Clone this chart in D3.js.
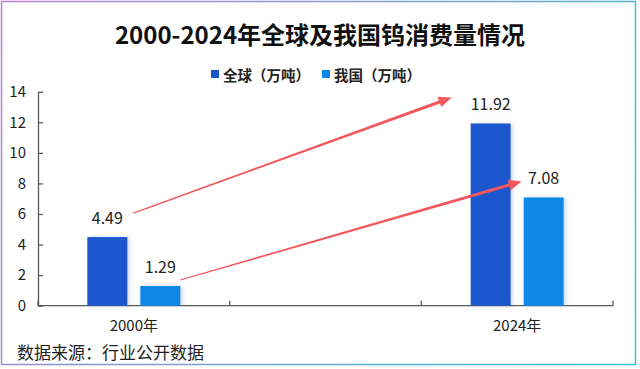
<!DOCTYPE html>
<html><head><meta charset="utf-8">
<script src="https://cdn.jsdelivr.net/npm/d3@7"></script>
<style>body{margin:0;background:#fff}svg{display:block}</style>
</head><body>
<script>
const categories = ["2000年", "", "2024年"];
const seriesNames = ["全球（万吨）", "我国（万吨）"];
const globalValues = [4.49, null, 11.92];
const chinaValues = [1.29, null, 7.08];
const yTicks = [0, 2, 4, 6, 8, 10, 12, 14];
const colors = ["#1E56CF", "#1188E8"];
const titleText = "2000-2024年全球及我国钨消费量情况";
const sourceText = "数据来源：行业公开数据";

const W = 640, H = 369;
const font = "'Noto Sans CJK SC','Noto Sans',sans-serif";
const svg = d3.select("body").append("svg").attr("width", W).attr("height", H);
const defs = svg.append("defs");
const grad = defs.append("linearGradient").attr("id","bd").attr("gradientUnits","userSpaceOnUse")
  .attr("x1",0).attr("y1",0).attr("x2",640).attr("y2",369);
grad.append("stop").attr("offset","0%").attr("stop-color","#B97BDB");
grad.append("stop").attr("offset","100%").attr("stop-color","#35C3D0");
const sh = defs.append("filter").attr("id","sh").attr("x","-20%").attr("y","-20%").attr("width","160%").attr("height","140%");
sh.append("feDropShadow").attr("dx",2).attr("dy",0).attr("stdDeviation",2).attr("flood-color","#6080c0").attr("flood-opacity",0.3);

svg.append("rect").attr("x",1.5).attr("y",1.5).attr("width",634).attr("height",363)
  .attr("fill","#fff").attr("stroke","url(#bd)").attr("stroke-width",1.5);

svg.append("text").attr("x",320).attr("y",33).attr("text-anchor","middle").attr("dominant-baseline","central")
  .attr("font-family",font).attr("font-size",24).attr("font-weight","bold").attr("fill","#111").text(titleText);

// legend
const legX = [211, 322];
seriesNames.forEach((n,i)=>{
  svg.append("rect").attr("x",legX[i]).attr("y",70).attr("width",8).attr("height",8).attr("fill",colors[i]);
  svg.append("text").attr("x",legX[i]+12).attr("y",74).attr("dominant-baseline","central")
    .attr("font-family",font).attr("font-size",14.5).attr("font-weight","bold").attr("fill","#222").text(n);
});

const x = d3.scaleBand().domain(categories).range([38, 613]).padding(0);
const y = d3.scaleLinear().domain([0, 14]).range([305.7, 91.7]);
const x1 = d3.scaleBand().domain([0,1]).range([0, 93]).paddingInner(13/53).paddingOuter(0);
const groupOff = (x.bandwidth() - 93) / 2;

// y axis
const yAxis = svg.append("g").attr("transform","translate(38,0)")
  .call(d3.axisLeft(y).tickValues(yTicks).tickSizeInner(-5).tickSizeOuter(0).tickPadding(12));
yAxis.select(".domain").attr("stroke","#595959").attr("stroke-width",1.3);
yAxis.selectAll(".tick line").attr("stroke","#595959").attr("stroke-width",1.3);
yAxis.selectAll("text").attr("font-family",font).attr("font-size",15).attr("fill","#222");

// x axis
const xAxisG = svg.append("g");
xAxisG.append("line").attr("x1",x.range()[0]).attr("x2",x.range()[1]).attr("y1",y(0)).attr("y2",y(0))
  .attr("stroke","#595959").attr("stroke-width",1.3);
const bounds = categories.map(c=>x(c)).concat([x.range()[1]]);
xAxisG.selectAll("line.tk").data(bounds).join("line").attr("class","tk")
  .attr("x1",d=>d).attr("x2",d=>d).attr("y1",y(0)).attr("y2",y(0)-5).attr("stroke","#595959").attr("stroke-width",1.3);
xAxisG.selectAll("text").data(categories).join("text")
  .attr("x",d=>x(d)+x.bandwidth()/2).attr("y",324).attr("text-anchor","middle").attr("dominant-baseline","central")
  .attr("font-family",font).attr("font-size",15).attr("fill","#222").text(d=>d);

// bars
const series = [globalValues, chinaValues];
const barData = [];
categories.forEach((c,ci)=>series.forEach((s,si)=>{ if(s[ci]!=null) barData.push({c, si, v:s[ci]}); }));
const bx = d => x(d.c) + groupOff + x1(d.si);
svg.append("g").selectAll("rect").data(barData).join("rect")
  .attr("x",bx).attr("y",d=>y(d.v)).attr("width",x1.bandwidth()).attr("height",d=>y(0)-y(d.v))
  .attr("fill",d=>colors[d.si]).attr("filter","url(#sh)");
svg.append("g").selectAll("text").data(barData).join("text")
  .attr("x",d=>bx(d)+x1.bandwidth()/2).attr("y",d=>y(d.v)-20).attr("text-anchor","middle").attr("dominant-baseline","central")
  .attr("font-family",font).attr("font-size",16).attr("fill","#222").text(d=>d.v.toFixed(2));

// arrows
const barOf = (c,si)=>barData.find(d=>d.c===c&&d.si===si);
function arrow(x0,y0,x1_,y1_){
  const dx=x1_-x0, dy=y1_-y0, L=Math.hypot(dx,dy), ux=dx/L, uy=dy/L, nx=-uy, ny=ux;
  const hl=13, hw=5.5, w0=0.6, w1=1.6;
  const bxp=x1_-ux*hl, byp=y1_-uy*hl;
  const pts=[[x0+nx*w0,y0+ny*w0],[bxp+nx*w1,byp+ny*w1],[bxp+nx*hw,byp+ny*hw],[x1_,y1_],
    [bxp-nx*hw,byp-ny*hw],[bxp-nx*w1,byp-ny*w1],[x0-nx*w0,y0-ny*w0]];
  svg.append("path").attr("d","M"+pts.map(p=>p.join(",")).join("L")+"Z").attr("fill","#F2585C");
}
const g0=barOf("2000年",0), g1=barOf("2024年",0), c0=barOf("2000年",1), c1=barOf("2024年",1);
arrow(bx(g0)+x1.bandwidth()/2+26, y(g0.v)-24, bx(g1)+x1.bandwidth()/2-39, y(g1.v)-26);
arrow(bx(c0)+x1.bandwidth(), y(c0.v)-6, bx(c1)-2, y(c1.v)-16);

svg.append("text").attr("x",17).attr("y",351).attr("dominant-baseline","central")
  .attr("font-family",font).attr("font-size",17).attr("fill","#222").text(sourceText);
</script>
</body></html>
